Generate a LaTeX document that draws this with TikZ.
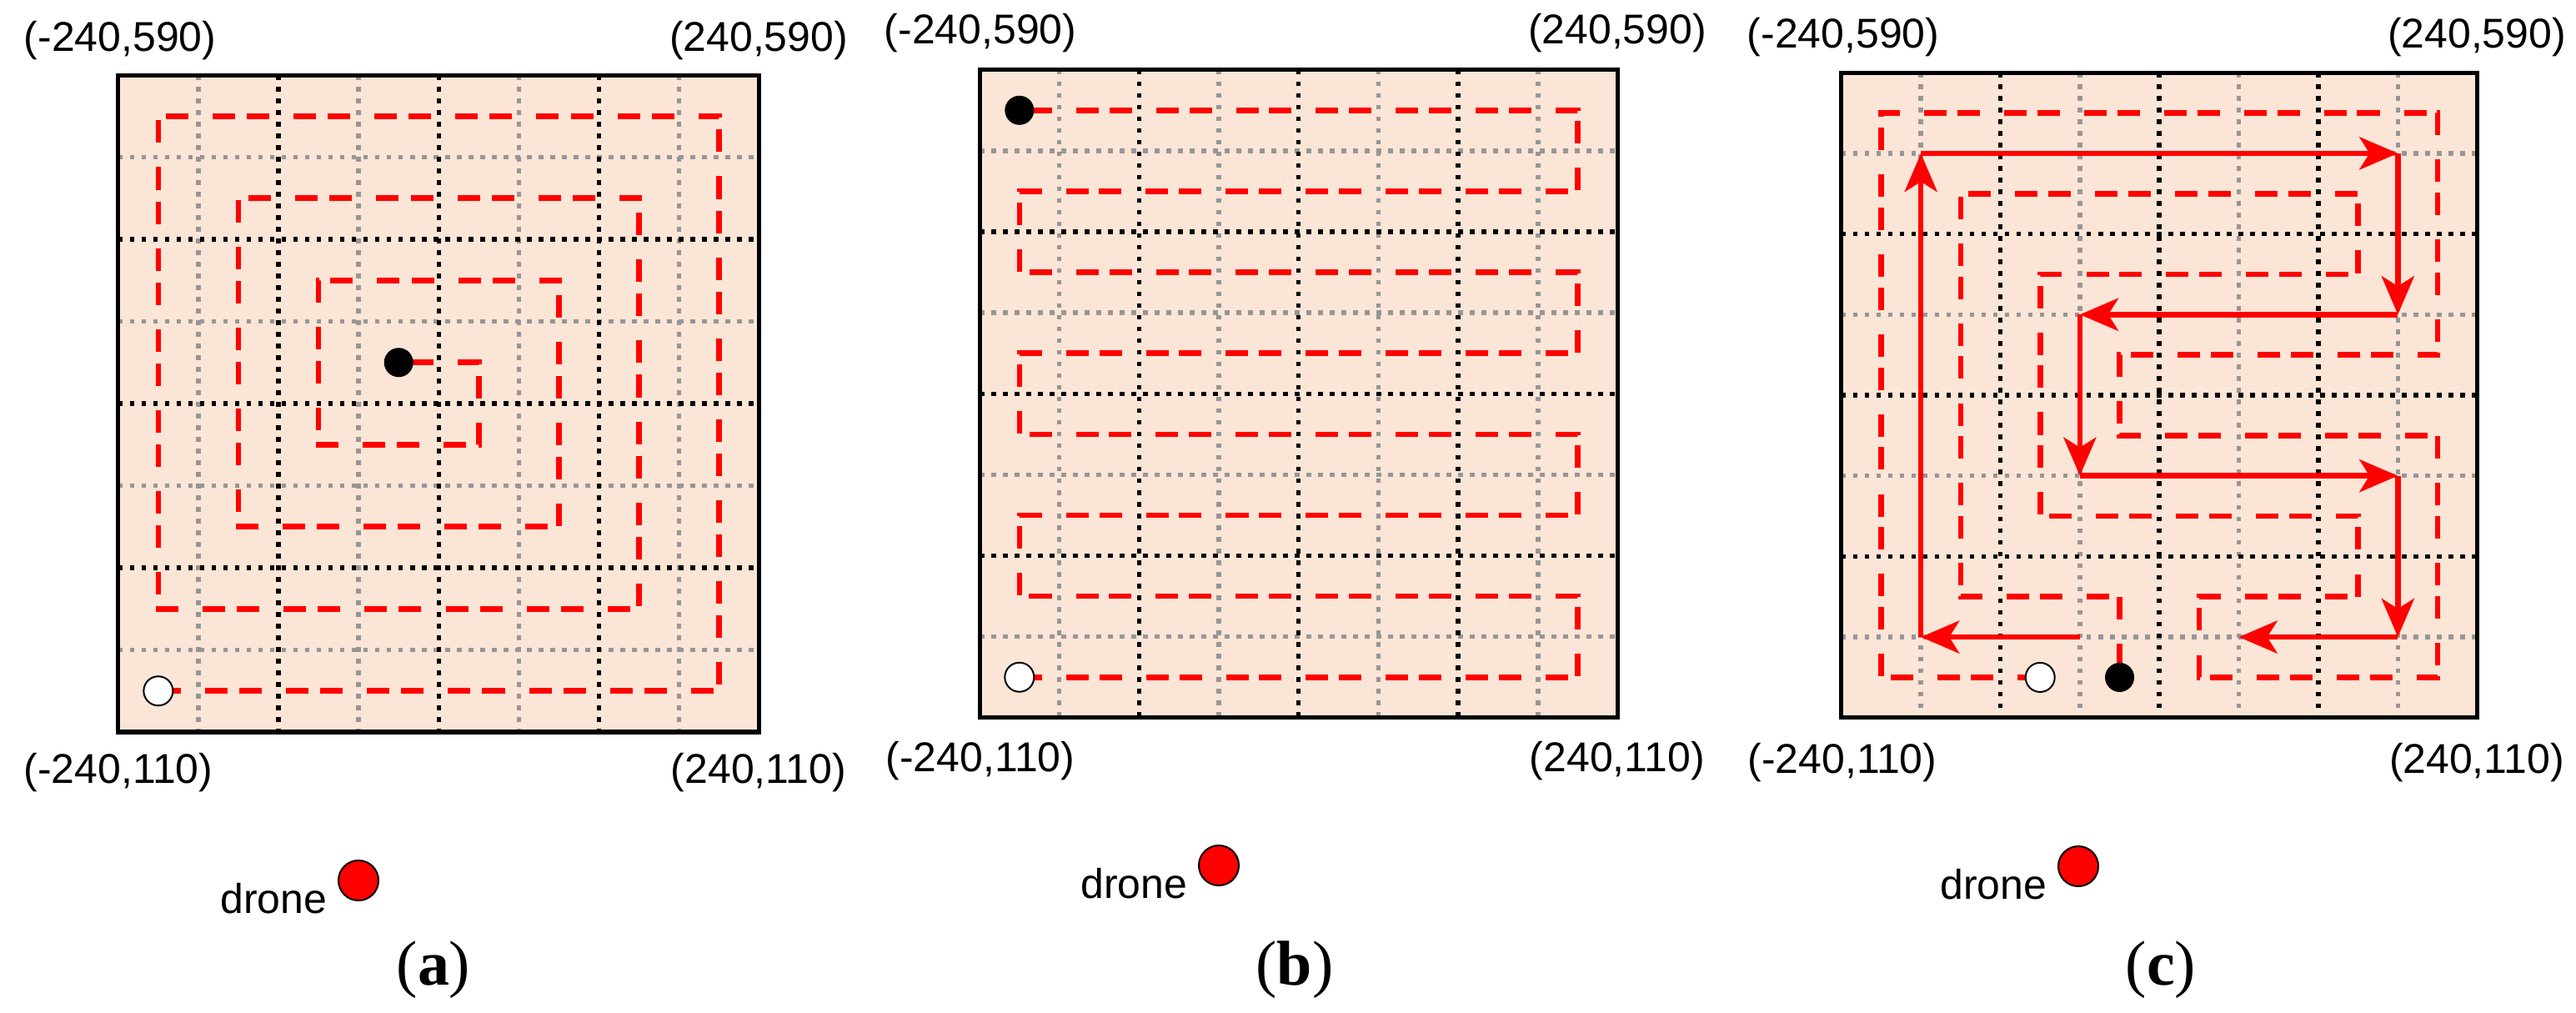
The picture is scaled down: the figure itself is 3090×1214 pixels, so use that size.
\documentclass[tikz,border=0pt]{standalone}
\usepackage{fontspec}
\setmainfont{Liberation Sans}
\newfontfamily\capfont{Liberation Serif}
\usetikzlibrary{arrows.meta,positioning}

\definecolor{fieldfill}{RGB}{251,229,214}
\definecolor{gridgray}{RGB}{150,150,150}
\definecolor{routered}{RGB}{255,0,0}

\begin{document}
\begin{tikzpicture}[
  x=0.01cm,y=-0.01cm,
  font=\fontsize{14.2}{17}\selectfont,
  line join=miter,
  corner/.style={inner sep=0pt},
  minorgrid/.style={gridgray,line width=0.055cm,dash pattern=on 0.055cm off 0.085cm},
  majorgrid/.style={black,line width=0.055cm,dash pattern=on 0.055cm off 0.085cm},
  route/.style={routered,line width=0.066cm,
    dash pattern=on 0.27cm off 0.29cm on 0.27cm off #1},
  sweep/.style={routered,line width=0.066cm,
    -{Stealth[length=0.46cm,width=0.39cm,inset=0.12cm]}},
  startdot/.style={circle,draw=black,fill=white,line width=0.02cm,
    minimum size=0.35cm,inner sep=0pt},
  enddot/.style={circle,fill=black,minimum size=0.35cm,inner sep=0pt},
  dronedot/.style={circle,draw=black,fill=routered,line width=0.02cm,
    minimum size=0.48cm,inner sep=0pt},
  dronetext/.style={anchor=base east,inner sep=0pt,yshift=-0.22cm},
  sublabel/.style={font=\capfont\fontsize{21.6}{26}\selectfont}
]
  \useasboundingbox (0,0) rectangle (3090,1214);

  % Search fields: origin and cell size of each panel.
  \foreach \fx/\fy/\cw/\ch in {141.8/90/0.9606/0.9844,
      1175/83.7/0.95625/0.9708, 2208.8/87.2/0.953/0.9664}{
    \begin{scope}[shift={(\fx,\fy)},x=\cw cm,y=-\ch cm]
      \fill[fieldfill] (0,0) rectangle (8,8);
      \foreach \k in {1,3,5,7}{
        \draw[minorgrid] (\k,0) -- (\k,8);
        \draw[minorgrid] (0,\k) -- (8,\k);
      }
      \foreach \k in {2,4,6}{
        \draw[majorgrid] (\k,0) -- (\k,8);
        \draw[majorgrid] (0,\k) -- (8,\k);
      }
      \draw[line width=0.05cm] (0,0) rectangle (8,8);
    \end{scope}
  }

  % (a) spiral towards the centre
  \begin{scope}[shift={(141.8,90)},x=0.9606cm,y=-0.9844cm]
    \draw[route=0.141cm] (0.5,7.5) -- (7.5,7.5) -- (7.5,0.5) -- (0.5,0.5)
      -- (0.5,6.5) -- (6.5,6.5) -- (6.5,1.5) -- (1.5,1.5) -- (1.5,5.5)
      -- (5.5,5.5) -- (5.5,2.5) -- (2.5,2.5) -- (2.5,4.5) -- (4.5,4.5)
      -- (4.5,3.5) -- (3.5,3.5);
    \node[startdot] (startA) at (0.5,7.5) {};
    \node[enddot] (endA) at (3.5,3.5) {};
  \end{scope}

  % (b) back and forth, row by row
  \begin{scope}[shift={(1175,83.7)},x=0.95625cm,y=-0.9708cm]
    \draw[route=0.128cm] (0.5,7.5) -- (7.5,7.5) -- (7.5,6.5) -- (0.5,6.5)
      -- (0.5,5.5) -- (7.5,5.5) -- (7.5,4.5) -- (0.5,4.5) -- (0.5,3.5)
      -- (7.5,3.5) -- (7.5,2.5) -- (0.5,2.5) -- (0.5,1.5) -- (7.5,1.5)
      -- (7.5,0.5) -- (0.5,0.5);
    \node[startdot] (startB) at (0.5,7.5) {};
    \node[enddot] (endB) at (0.5,0.5) {};
  \end{scope}

  % (c) coarse sweep with its fine route
  \begin{scope}[shift={(2208.8,87.2)},x=0.953cm,y=-0.9664cm]
    \draw[route=0.1285cm] (2.5,7.5) -- (0.5,7.5) -- (0.5,0.5) -- (7.5,0.5)
      -- (7.5,3.5) -- (3.5,3.5) -- (3.5,4.5) -- (7.5,4.5) -- (7.5,7.5)
      -- (4.5,7.5) -- (4.5,6.5) -- (6.5,6.5) -- (6.5,5.5) -- (2.5,5.5)
      -- (2.5,2.5) -- (6.5,2.5) -- (6.5,1.5) -- (1.5,1.5) -- (1.5,6.5)
      -- (3.5,6.5) -- (3.5,7.5);
    \foreach \gx/\gy in {3/7,1/7,1/1,7/1,7/3,3/3,3/5,7/5,7/7,5/7}
      \coordinate (g\gx\gy) at (\gx,\gy);
    \foreach \from/\to in {g37/g17,g17/g11,g11/g71,g71/g73,g73/g33,
        g33/g35,g35/g75,g75/g77,g77/g57}
      \draw[sweep] (\from) -- (\to);
    \node[startdot] (startC) at (2.5,7.5) {};
    \node[enddot] (endC) at (3.5,7.5) {};
  \end{scope}

  % Corner coordinates.
  \node[corner] (tlA) at (144,49) {(-240,590)};
  \node[corner] (trA) at (910,49) {(240,590)};
  \node[corner] (blA) at (142,927) {(-240,110)};
  \node[corner] (brA) at (910,927) {(240,110)};
  \node[corner] (tlB) at (1176,40) {(-240,590)};
  \node[corner] (trB) at (1940,40) {(240,590)};
  \node[corner] (blB) at (1176,913) {(-240,110)};
  \node[corner] (brB) at (1940,913) {(240,110)};
  \node[corner] (tlC) at (2211,45) {(-240,590)};
  \node[corner] (trC) at (2971,45) {(240,590)};
  \node[corner] (blC) at (2210,915) {(-240,110)};
  \node[corner] (brC) at (2971,915) {(240,110)};

  % Drone legend.
  \node[dronedot] (droneA) at (430,1056) {};
  \node[dronetext,left=0.12cm of droneA] (droneAtxt) {drone};
  \node[dronedot] (droneB) at (1462,1038) {};
  \node[dronetext,left=0.12cm of droneB] (droneBtxt) {drone};
  \node[dronedot] (droneC) at (2493,1039) {};
  \node[dronetext,left=0.12cm of droneC] (droneCtxt) {drone};

  \node[sublabel] (capA) at (520,1163) {(\textbf{a})};
  \node[sublabel] (capB) at (1553,1163) {(\textbf{b})};
  \node[sublabel] (capC) at (2592,1163) {(\textbf{c})};
\end{tikzpicture}
\end{document}
